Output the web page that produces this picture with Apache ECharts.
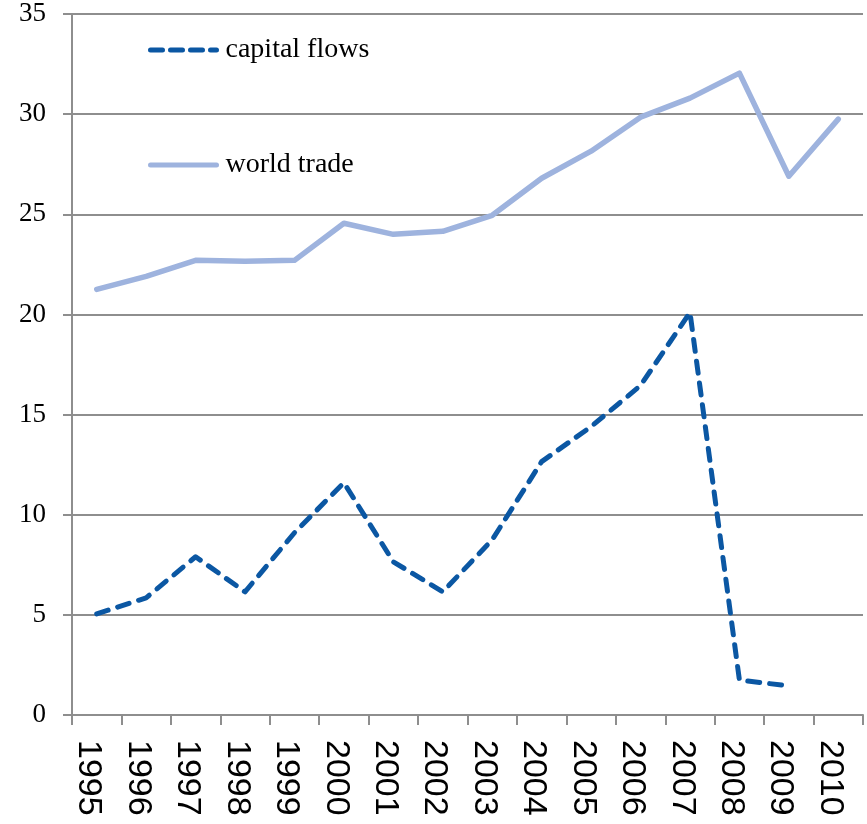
<!DOCTYPE html>
<html>
<head>
<meta charset="utf-8">
<script src="https://cdn.jsdelivr.net/npm/echarts@6/dist/echarts.min.js"></script>
<style>
  html, body { margin: 0; padding: 0; background: #fff; }
  #chart { width: 867px; height: 824px; }
</style>
</head>
<body>
<div id="chart"></div>
<script>
// Years on the horizontal axis
const years = ['1995','1996','1997','1998','1999','2000','2001','2002',
               '2003','2004','2005','2006','2007','2008','2009','2010'];

// Capital flows (no value for 2010)
const capitalFlows = [5.05, 5.85, 7.9, 6.15, 9.1, 11.6, 7.65, 6.15,
                      8.75, 12.65, 14.4, 16.45, 20.1, 1.75, 1.45, null];

// World trade
const worldTrade = [21.25, 21.9, 22.7, 22.65, 22.7, 24.55, 24.0, 24.15,
                    24.95, 26.8, 28.15, 29.85, 30.8, 32.05, 26.9, 29.75];

// Value axis range
const yMin = 0, yMax = 35, yStep = 5;

const chart = echarts.init(document.getElementById('chart'), null, { renderer: 'canvas' });

const serif = '"Liberation Serif", "DejaVu Serif", serif';
const gridGray = '#8e8e8e';
const darkBlue = '#0b57a3';
const lightBlue = '#9eb3de';

chart.setOption({
  backgroundColor: '#ffffff',
  animation: false,
  grid: { left: 72, right: 4, top: 14, bottom: 109, containLabel: false },
  legend: {
    orient: 'vertical',
    left: 143,
    top: 31,
    itemWidth: 66,
    itemHeight: 10,
    itemGap: 87,
    textStyle: { fontFamily: serif, fontSize: 28, color: '#000', padding: [0, 0, 0, 4] },
    itemStyle: { opacity: 0 },
    data: [
      { name: 'capital flows', lineStyle: { width: 5, type: [12, 8], cap: 'round', color: darkBlue } },
      { name: 'world trade', lineStyle: { width: 5, cap: 'round', color: lightBlue } }
    ]
  },
  xAxis: {
    type: 'category',
    data: years,
    boundaryGap: true,
    axisLine: { show: true, lineStyle: { color: gridGray, width: 2 } },
    axisTick: { show: true, interval: 0, length: 10, lineStyle: { color: gridGray, width: 2 } },
    axisLabel: {
      interval: 0,
      rotate: -90,
      margin: 25,
      verticalAlign: 'top',
      lineHeight: 16,
      fontFamily: '"Liberation Sans", Arial, sans-serif',
      fontSize: 34,
      color: '#000'
    },
    splitLine: { show: false }
  },
  yAxis: {
    type: 'value',
    min: yMin,
    max: yMax,
    interval: yStep,
    axisLine: { show: true, lineStyle: { color: gridGray, width: 2 } },
    axisTick: { show: true, length: 9, lineStyle: { color: gridGray, width: 2 } },
    axisLabel: {
      margin: 26,
      fontFamily: serif,
      fontSize: 27,
      color: '#000'
    },
    splitLine: { show: true, lineStyle: { color: gridGray, width: 2 } }
  },
  series: [
    {
      name: 'capital flows',
      type: 'line',
      data: capitalFlows,
      symbol: 'none',
      connectNulls: false,
      itemStyle: { color: darkBlue },
      lineStyle: { color: darkBlue, width: 5, type: [12, 10], cap: 'round', join: 'round' },
      z: 3
    },
    {
      name: 'world trade',
      type: 'line',
      data: worldTrade,
      symbol: 'none',
      itemStyle: { color: lightBlue },
      lineStyle: { color: lightBlue, width: 5.5, cap: 'round', join: 'round' },
      z: 2
    }
  ]
});
</script>
</body>
</html>
